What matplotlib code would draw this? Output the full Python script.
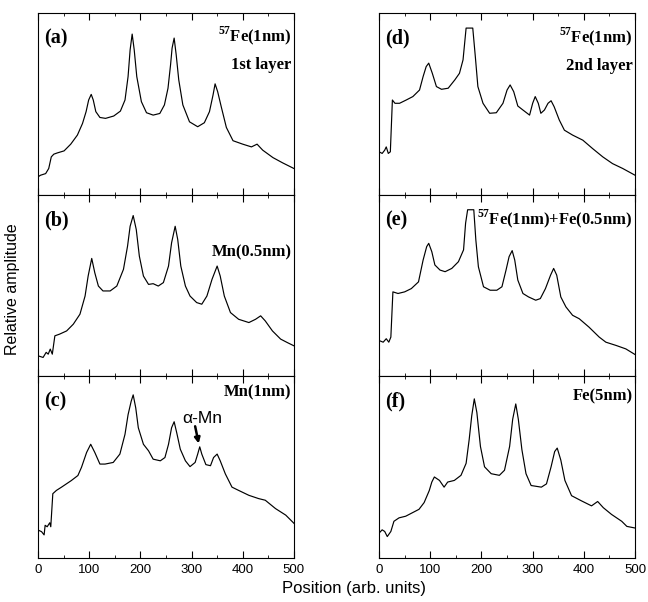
import matplotlib
matplotlib.use("Agg")
import matplotlib.pyplot as plt
from matplotlib.ticker import MultipleLocator, NullLocator

# spectra (position, relative amplitude 0..1 within a panel)
xa = [0, 5, 15, 21, 26, 31, 38, 51, 64, 77, 87, 94, 99, 104, 108, 113, 121, 132, 148, 161,
      170, 176, 180, 184, 188, 193, 202, 212, 225, 238, 247, 254, 259, 262, 266, 270, 275, 283, 296, 312,
      325, 335, 342, 346, 351, 358, 368, 381, 400, 417, 428, 439, 459, 478, 500]
ya = [0.098, 0.107, 0.116, 0.144, 0.208, 0.223, 0.23, 0.241, 0.278, 0.328, 0.392, 0.457, 0.521, 0.552, 0.521, 0.457, 0.425, 0.42, 0.433, 0.46,
      0.521, 0.65, 0.797, 0.884, 0.797, 0.65, 0.512, 0.451, 0.438, 0.447, 0.494, 0.586, 0.715, 0.807, 0.862, 0.77, 0.632, 0.494, 0.401, 0.374,
      0.396, 0.457, 0.549, 0.61, 0.567, 0.484, 0.37, 0.297, 0.278, 0.263, 0.278, 0.245, 0.204, 0.175, 0.144]

xb = [0, 10, 16, 20, 24, 28, 33, 42, 56, 69, 82, 92, 98, 105, 111, 118, 127, 141, 154, 167,
      175, 180, 186, 192, 198, 206, 216, 225, 235, 245, 255, 261, 268, 273, 279, 288, 297, 310, 320, 330,
      340, 350, 356, 364, 376, 392, 412, 425, 435, 444, 458, 474, 487, 500]
yb = [0.113, 0.104, 0.132, 0.122, 0.15, 0.122, 0.223, 0.232, 0.25, 0.287, 0.342, 0.442, 0.552, 0.649, 0.57, 0.497, 0.47, 0.47, 0.497, 0.589,
      0.717, 0.826, 0.885, 0.808, 0.662, 0.552, 0.506, 0.51, 0.497, 0.516, 0.607, 0.735, 0.826, 0.753, 0.607, 0.497, 0.442, 0.406, 0.397, 0.442,
      0.534, 0.607, 0.552, 0.442, 0.351, 0.314, 0.296, 0.314, 0.333, 0.305, 0.25, 0.205, 0.186, 0.168]

xc = [0, 7, 12, 14, 18, 23, 25, 29, 36, 46, 65, 78, 85, 95, 103, 111, 121, 131, 147, 160,
      170, 176, 182, 186, 191, 196, 206, 216, 225, 239, 248, 255, 261, 266, 271, 278, 288, 297, 307, 312,
      316, 320, 328, 337, 343, 350, 356, 366, 379, 392, 412, 431, 444, 464, 484, 500]
yc = [0.154, 0.145, 0.127, 0.18, 0.172, 0.194, 0.172, 0.354, 0.372, 0.39, 0.426, 0.454, 0.499, 0.581, 0.626, 0.581, 0.517, 0.517, 0.526, 0.572,
      0.681, 0.789, 0.862, 0.898, 0.826, 0.717, 0.626, 0.59, 0.544, 0.535, 0.553, 0.626, 0.717, 0.75, 0.69, 0.599, 0.535, 0.503, 0.526, 0.572,
      0.612, 0.572, 0.514, 0.508, 0.553, 0.572, 0.535, 0.463, 0.39, 0.372, 0.345, 0.327, 0.318, 0.272, 0.236, 0.191]

xd = [0, 6, 11, 14, 18, 22, 26, 31, 40, 53, 66, 79, 86, 92, 97, 104, 112, 122, 135, 148,
      157, 164, 170, 183, 188, 193, 203, 216, 229, 242, 250, 256, 263, 271, 281, 294, 300, 305, 311, 316,
      323, 330, 336, 342, 352, 362, 378, 398, 417, 437, 456, 476, 500]
yd = [0.236, 0.227, 0.245, 0.263, 0.227, 0.236, 0.521, 0.503, 0.503, 0.521, 0.54, 0.576, 0.65, 0.705, 0.724, 0.668, 0.595, 0.58, 0.586, 0.632,
      0.668, 0.742, 0.917, 0.917, 0.76, 0.595, 0.503, 0.448, 0.451, 0.503, 0.576, 0.604, 0.567, 0.488, 0.466, 0.438, 0.503, 0.54, 0.503, 0.448,
      0.466, 0.503, 0.517, 0.484, 0.411, 0.355, 0.328, 0.3, 0.254, 0.208, 0.171, 0.144, 0.107]

xe = [0, 8, 14, 19, 23, 27, 37, 50, 63, 77, 86, 93, 97, 103, 109, 119, 129, 142, 155, 165,
      169, 173, 185, 189, 194, 204, 217, 230, 240, 248, 254, 260, 265, 271, 281, 292, 306, 315, 325, 335,
      341, 347, 355, 365, 378, 391, 410, 430, 443, 463, 482, 500]
ye = [0.197, 0.188, 0.207, 0.188, 0.216, 0.465, 0.456, 0.465, 0.483, 0.52, 0.64, 0.714, 0.732, 0.686, 0.613, 0.585, 0.576, 0.594, 0.631, 0.696,
      0.843, 0.917, 0.917, 0.751, 0.603, 0.493, 0.474, 0.474, 0.493, 0.585, 0.659, 0.692, 0.64, 0.53, 0.456, 0.437, 0.419, 0.428, 0.483, 0.557,
      0.594, 0.557, 0.437, 0.382, 0.336, 0.317, 0.271, 0.216, 0.188, 0.17, 0.151, 0.12]

xf = [0, 6, 11, 16, 23, 29, 39, 52, 65, 78, 88, 98, 103, 108, 118, 127, 134, 147, 160, 170,
      176, 181, 186, 191, 198, 206, 219, 235, 245, 255, 261, 267, 272, 279, 287, 297, 317, 327, 336, 343,
      348, 355, 363, 376, 395, 415, 427, 438, 454, 474, 484, 500]
yf = [0.137, 0.155, 0.146, 0.118, 0.146, 0.202, 0.221, 0.23, 0.249, 0.268, 0.305, 0.371, 0.418, 0.446, 0.427, 0.39, 0.418, 0.427, 0.455, 0.521,
      0.652, 0.783, 0.876, 0.801, 0.614, 0.502, 0.464, 0.455, 0.483, 0.614, 0.764, 0.848, 0.764, 0.596, 0.464, 0.399, 0.39, 0.408, 0.502, 0.586,
      0.605, 0.539, 0.427, 0.343, 0.315, 0.287, 0.311, 0.277, 0.24, 0.202, 0.174, 0.165]

panels = [
    ("(a)", xa, ya, [(r"$^{\mathrm{57}}$Fe(1nm)", 0.875), ("1st layer", 0.715)]),
    ("(b)", xb, yb, [("Mn(0.5nm)", 0.68)]),
    ("(c)", xc, yc, [("Mn(1nm)", 0.91)]),
    ("(d)", xd, yd, [(r"$^{\mathrm{57}}$Fe(1nm)", 0.87), ("2nd layer", 0.71)]),
    ("(e)", xe, ye, [(r"$^{\mathrm{57}}$Fe(1nm)+Fe(0.5nm)", 0.87)]),
    ("(f)", xf, yf, [("Fe(5nm)", 0.89)]),
]

plt.rcParams["font.family"] = ["Liberation Sans", "DejaVu Sans"]
plt.rcParams["mathtext.fontset"] = "custom"
plt.rcParams["mathtext.rm"] = "Liberation Serif:bold"

fig = plt.figure(figsize=(6.48, 6.02), dpi=100)
col_left = [0.0586, 0.585]
col_w = 0.395
bottom, top = 0.0731, 0.9784
h = (top - bottom) / 3

serif = dict(family="Liberation Serif", weight="bold")
for i, (lab, x, y, notes) in enumerate(panels):
    col, row = divmod(i, 3)
    ax = fig.add_axes([col_left[col], top - (row + 1) * h, col_w, h])
    ax.plot(x, y, color="k", lw=0.85)
    ax.set_xlim(0, 500)
    ax.set_ylim(0, 1)
    ax.xaxis.set_major_locator(MultipleLocator(100))
    ax.xaxis.set_minor_locator(MultipleLocator(50))
    ax.yaxis.set_major_locator(NullLocator())
    ax.tick_params(axis="x", which="both", direction="in", top=True, labelsize=9.5, pad=4)
    ax.tick_params(axis="x", which="major", length=5)
    ax.tick_params(axis="x", which="minor", length=2.5)
    if row < 2:
        ax.set_xticklabels([])
    ax.text(0.025, 0.86, lab, transform=ax.transAxes, fontsize=14.5, va="center", ha="left", **serif)
    for txt, ty in notes:
        ax.text(0.99, ty, txt, transform=ax.transAxes, fontsize=12, va="center", ha="right", **serif)
    if lab == "(c)":
        ax.text(320, 0.77, "α-Mn", fontsize=12.5, ha="center", va="center")
        ax.annotate("", xy=(314, 0.63), xytext=(307, 0.725),
                    arrowprops=dict(arrowstyle="-|>", color="k", lw=1.8, mutation_scale=8,
                                    shrinkA=0, shrinkB=0))

fig.text(0.546, 0.023, "Position (arb. units)", fontsize=12, ha="center", va="center")
fig.text(0.02, 0.52, "Relative amplitude", fontsize=11.5, ha="center", va="center", rotation=90)

plt.savefig("out.png", dpi=100)
